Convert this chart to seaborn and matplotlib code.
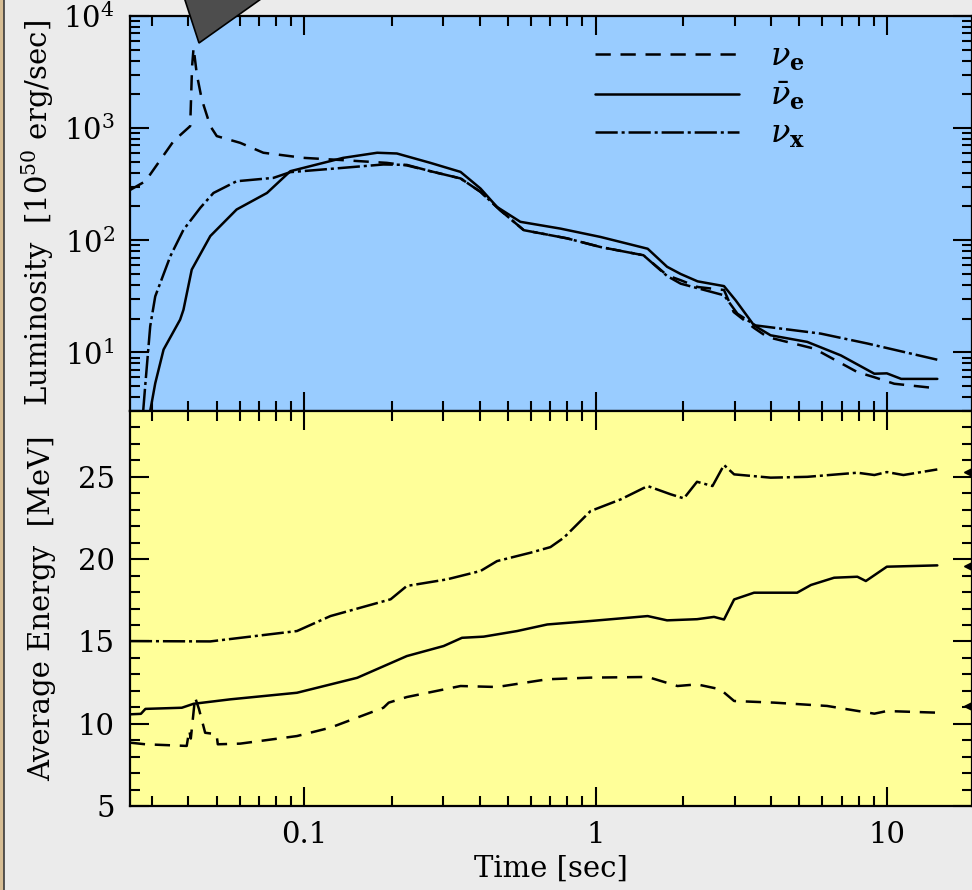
import numpy as np
import pandas as pd
import matplotlib
matplotlib.use("Agg")
import matplotlib.pyplot as plt
import seaborn as sns
from matplotlib.patches import Polygon, Rectangle
from matplotlib.lines import Line2D
from matplotlib.ticker import LogLocator, MultipleLocator, NullFormatter, FuncFormatter

# ---------------- data ----------------
# Luminosity panel [10^50 erg/s]
t_L_nue = [0.0252, 0.0285, 0.0356, 0.0406, 0.0412, 0.0417, 0.0428, 0.0445, 0.0476, 0.0501,
           0.0603, 0.0724, 0.0995, 0.136, 0.192, 0.225, 0.271, 0.344, 0.403, 0.471, 0.567,
           0.798, 1.04, 1.46, 1.76, 1.96, 2.24, 2.76, 2.98, 3.5, 3.89, 5.63, 7.92, 9.06,
           10.6, 14.2]
L_nue = [280, 336, 766, 1042, 3500, 5200, 3000, 1800, 1042, 849,
         739, 603, 543, 518, 490, 465, 413, 356, 270, 185, 123,
         104, 87, 73.5, 48.7, 44, 38.3, 36, 22.9, 16.5, 13.7, 10.8, 6.67, 6.0,
         5.25, 4.84]

t_L_nuebar = [0.0296, 0.0308, 0.0329, 0.0375, 0.0385, 0.0411, 0.0476, 0.0586, 0.0745, 0.0896,
              0.136, 0.178, 0.208, 0.271, 0.344, 0.403, 0.459, 0.552, 0.758, 1.04, 1.51,
              1.76, 1.96, 2.24, 2.76, 3.03, 3.5, 3.99, 5.33, 6.95, 9.06, 10.0, 11.2, 14.9]
L_nuebar = [3.0, 5.3, 10.6, 19.6, 24, 54.7, 109, 188, 264, 413,
            543, 603, 594, 490, 407, 289, 198, 146, 127, 107, 84,
            58, 50, 43, 39, 29, 17.4, 14.2, 12.4, 9.4, 6.45, 6.5, 5.8, 5.8]

t_L_nux = [0.0280, 0.0285, 0.0296, 0.0308, 0.0347, 0.0385, 0.0440, 0.0488, 0.0586, 0.0784,
           0.0896, 0.123, 0.187, 0.225, 0.271, 0.344, 0.403, 0.471, 0.567, 0.798, 1.04,
           1.46, 1.76, 1.96, 2.76, 3.07, 3.54, 5.93, 8.57, 14.9]
L_nux = [3.0, 5.3, 17.1, 31.6, 72, 124, 195, 264, 336, 360,
         405, 433, 474, 470, 413, 356, 270, 185, 123, 104, 87,
         73.5, 48, 41, 32.3, 22.1, 17.4, 14.7, 12.0, 8.6]

# Average energy panel [MeV]
t_E_nue = [0.0252, 0.0285, 0.0395, 0.0403, 0.0408, 0.0422, 0.0435, 0.0457, 0.0500, 0.0505,
           0.0603, 0.0944, 0.123, 0.187, 0.195, 0.225, 0.344, 0.459, 0.683, 0.961, 1.51,
           1.91, 2.23, 2.68, 2.99, 4.11, 6.23, 9.06, 10.0, 14.9]
E_nue = [8.85, 8.75, 8.65, 9.6, 9.1, 11.6, 10.9, 9.45, 9.36, 8.75,
         8.79, 9.25, 9.76, 10.97, 11.28, 11.62, 12.29, 12.23, 12.70, 12.80, 12.84,
         12.29, 12.39, 12.09, 11.38, 11.28, 11.08, 10.61, 10.77, 10.67]

t_E_nuebar = [0.0252, 0.0275, 0.0285, 0.038, 0.0417, 0.0557, 0.0944, 0.152, 0.225, 0.301,
              0.348, 0.413, 0.538, 0.683, 0.961, 1.51, 1.76, 2.23, 2.55, 2.76, 2.99,
              3.5, 4.92, 5.49, 6.59, 7.92, 8.47, 10.0, 14.9]
E_nuebar = [10.57, 10.6, 10.9, 10.97, 11.21, 11.48, 11.88, 12.79, 14.11, 14.72,
            15.22, 15.29, 15.63, 16.03, 16.24, 16.54, 16.28, 16.35, 16.49, 16.33, 17.55,
            17.96, 17.96, 18.43, 18.87, 18.93, 18.67, 19.54, 19.62]

t_E_nux = [0.0252, 0.0476, 0.0944, 0.123, 0.198, 0.225, 0.309, 0.403, 0.459, 0.598,
           0.70, 0.778, 0.961, 1.22, 1.51, 1.81, 2.01, 2.23, 2.52, 2.76, 2.99,
           3.99, 5.33, 7.92, 9.06, 10.0, 11.4, 14.9]
E_nux = [15.02, 15.0, 15.63, 16.54, 17.56, 18.37, 18.77, 19.28, 19.88, 20.39,
         20.73, 21.30, 22.92, 23.63, 24.44, 23.94, 23.69, 24.70, 24.44, 25.72, 25.15,
         24.95, 25.0, 25.25, 25.11, 25.29, 25.11, 25.45]

# small end-value markers on the right edge of the energy panel
end_marks_E = [25.3, 19.6, 11.1]

labels = [r"$\nu_\mathbf{e}$", r"$\bar{\nu}_\mathbf{e}$", r"$\nu_\mathbf{x}$"]
E_ticks = [5, 10, 15, 20, 25]

# ---------------- style ----------------
sns.set_style("ticks")
plt.rcParams["font.family"] = ["DejaVu Serif"]
plt.rcParams["mathtext.fontset"] = "dejavuserif"
plt.rcParams["lines.scale_dashes"] = False
for k in ("text.color", "axes.labelcolor", "xtick.color", "ytick.color"):
    plt.rcParams[k] = "black"

BLUE = "#99ccff"
YELLOW = "#ffff99"
FIGBG = "#ebebeb"
dash_nue = (0, (11, 7))
dash_nux = (0, (16, 2.8, 2.2, 2.8))
styles = [dash_nue, "-", dash_nux]
LW = 1.8
FS = 21

W, H = 972, 890
fig = plt.figure(figsize=(W / 100, H / 100), dpi=100, facecolor=FIGBG)

x_left, x_right = 130, 972
ax1 = fig.add_axes([x_left / W, 1 - 411 / H, (x_right - x_left) / W, 395 / H])
ax2 = fig.add_axes([x_left / W, 1 - 806 / H, (x_right - x_left) / W, 395 / H])
ax1.set_facecolor(BLUE)
ax2.set_facecolor(YELLOW)

XLIM = (0.02523, 19.6)

top_sets = [(t_L_nue, L_nue), (t_L_nuebar, L_nuebar), (t_L_nux, L_nux)]
bot_sets = [(t_E_nue, E_nue), (t_E_nuebar, E_nuebar), (t_E_nux, E_nux)]

for (tt, yy), ls, lab in zip(top_sets, styles, labels):
    df = pd.DataFrame({"t": tt, "v": yy})
    sns.lineplot(data=df, x="t", y="v", ax=ax1, color="black", lw=LW, linestyle=ls,
                 estimator=None, sort=False, label=lab, legend=False)
for (tt, yy), ls in zip(bot_sets, styles):
    df = pd.DataFrame({"t": tt, "v": yy})
    sns.lineplot(data=df, x="t", y="v", ax=ax2, color="black", lw=LW, linestyle=ls,
                 estimator=None, sort=False, legend=False)

# right-edge markers
dfm = pd.DataFrame({"t": [XLIM[1] * 0.985] * len(end_marks_E), "v": end_marks_E})
ax2.plot(dfm["t"], dfm["v"], ls="none", marker="<", color="black", ms=8, clip_on=False)

for ax in (ax1, ax2):
    ax.set_xscale("log")
    ax.set_xlim(*XLIM)
    ax.xaxis.set_major_locator(LogLocator(base=10, numticks=10))
    ax.xaxis.set_minor_locator(LogLocator(base=10, subs=np.arange(2, 10), numticks=20))
    ax.tick_params(which="both", direction="in", top=True, right=True, bottom=True, left=True,
                   width=1.5, colors="black", labelsize=FS, pad=11)
    ax.tick_params(which="major", length=14)
    ax.tick_params(which="minor", length=7)
    for s in ax.spines.values():
        s.set_linewidth(1.6)
        s.set_color("black")
    ax.set_xlabel("")
    ax.set_ylabel("")

ax1.set_yscale("log")
ax1.set_ylim(3, 1e4)
ax1.yaxis.set_major_locator(LogLocator(base=10, numticks=10))
ax1.yaxis.set_minor_locator(LogLocator(base=10, subs=np.arange(2, 10), numticks=20))
ax1.yaxis.set_minor_formatter(NullFormatter())
ax1.tick_params(axis="x", which="both", labelbottom=False)
ax1.set_ylabel(r"Luminosity  [10$^{50}$ erg/sec]", fontsize=FS)
ax1.yaxis.set_label_coords(-0.088, 0.5)

ax2.set_ylim(5, 29)
ax2.set_yticks(E_ticks)
ax2.yaxis.set_minor_locator(MultipleLocator(1))
ax2.xaxis.set_major_formatter(FuncFormatter(lambda v, p: f"{v:g}"))
ax2.xaxis.set_minor_formatter(NullFormatter())
ax2.set_ylabel("Average Energy  [MeV]", fontsize=FS)
ax2.yaxis.set_label_coords(-0.088, 0.5)
ax2.set_xlabel("Time [sec]", fontsize=FS, labelpad=4)

handles = [Line2D([], [], color="black", lw=LW, linestyle=ls) for ls in styles]
ax1.legend(handles, labels, loc="upper left", bbox_to_anchor=(0.552, 0.935), frameon=False,
           fontsize=23, handlelength=4.5, handletextpad=1.0, labelspacing=0.22,
           borderpad=0, borderaxespad=0)

# decorations: callout arrow tip at top and left frame strip
tri = Polygon([(183 / W, 1 + 6 / H), (199 / W, 1 - 43 / H), (268 / W, 1 + 6 / H)],
              closed=True, transform=fig.transFigure, facecolor="#4d4d4d",
              edgecolor="black", lw=1.2, clip_on=False, zorder=10)
fig.add_artist(tri)
fig.add_artist(Rectangle((0, 0), 3.5 / W, 1, transform=fig.transFigure,
                         facecolor="#d6bd94", edgecolor="none", zorder=10))
fig.add_artist(Line2D([4.2 / W, 4.2 / W], [0, 1], transform=fig.transFigure,
                      color="#3a3a3a", lw=1.2, zorder=10))

fig.savefig("out.png", dpi=100, facecolor=FIGBG)
